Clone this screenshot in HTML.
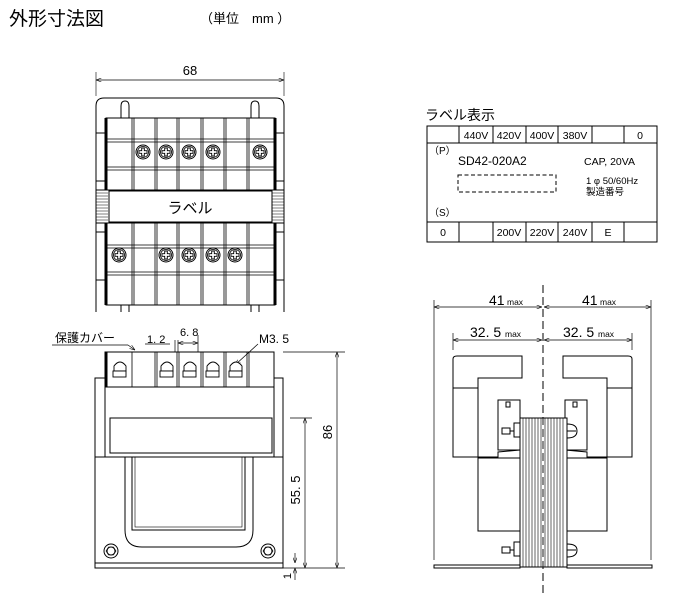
<!DOCTYPE html>
<html><head><meta charset="utf-8"><style>
html,body{margin:0;padding:0;background:#fff;}
svg{display:block;}
text{font-family:"Liberation Sans","Noto Sans CJK JP",sans-serif;fill:#000;}
</style></head><body>
<svg width="690" height="595" viewBox="0 0 690 595" xmlns="http://www.w3.org/2000/svg">
<defs>
<marker id="a" markerWidth="8" markerHeight="6" refX="8" refY="3" orient="auto-start-reverse"><path d="M0,0 L8,3 L0,6" fill="none" stroke="#000" stroke-width="0.8"/></marker>
<g id="scr"><circle r="7" fill="#fff" stroke="#000" stroke-width="1"/><circle r="5.5" fill="none" stroke="#000" stroke-width="0.8"/><path d="M-4,-1.3 H-1.3 V-4 H1.3 V-1.3 H4 V1.3 H1.3 V4 H-1.3 V1.3 H-4 Z" fill="#fff" stroke="#000" stroke-width="0.9"/></g>
</defs>
<text x="9" y="25" font-size="19">外形寸法図</text>
<text x="200" y="23" font-size="13">（単位　mm ）</text>

<!-- TOP VIEW -->
<g stroke="#000" fill="none" stroke-width="1">
<line x1="96" y1="72" x2="96" y2="96" stroke-width="0.6"/><line x1="284" y1="72" x2="284" y2="96" stroke-width="0.6"/>
<line x1="96" y1="80" x2="284" y2="80" stroke-width="0.7" marker-start="url(#a)" marker-end="url(#a)"/>
<path d="M96,312 V106 Q96,98 104,98 H276 Q284,98 284,106 V312"/>
<path d="M121,118 V106 Q121,101 125,101 Q129,101 129,106 V118"/>
<path d="M251,118 V106 Q251,101 255,101 Q259,101 259,106 V118"/>
<path d="M121,305 V312 M129,305 V312 M251,305 V312 M259,305 V312"/>
<rect x="96" y="133" width="12" height="48"/><rect x="272" y="133" width="12" height="48"/>
<rect x="96" y="232" width="12" height="48"/><rect x="272" y="232" width="12" height="48"/>
<rect x="106" y="118" width="169" height="72" fill="#fff"/>
<rect x="106" y="223" width="169" height="82" fill="#fff"/>
<line x1="106" y1="118" x2="106" y2="190" stroke-width="3"/><line x1="275" y1="118" x2="275" y2="190" stroke-width="3"/>
<line x1="106" y1="223" x2="106" y2="305" stroke-width="3"/><line x1="275" y1="223" x2="275" y2="305" stroke-width="3"/>
<path d="M106,139 H275 M106,142 H275 M106,167 H275 M106,170 H275 M106,245 H275 M106,248 H275 M106,272 H275 M106,275 H275" stroke-width="0.7"/>
<path d="M132,118V190M134,118V190M155,118V190M157,118V190M177,118V190M179,118V190M201,118V190M203,118V190M224,118V190M226,118V190M247,118V190M249,118V190" stroke-width="0.8"/>
<path d="M132,223V305M134,223V305M155,223V305M157,223V305M177,223V305M179,223V305M201,223V305M203,223V305M224,223V305M226,223V305M247,223V305M249,223V305" stroke-width="0.8"/>
<rect x="96" y="190" width="188" height="33" fill="#fff"/>
<path d="M96,193H108M96,196H108M96,199H108M96,202H108M96,205H108M96,208H108M96,211H108M96,214H108M96,217H108M96,220H108 M272,193H284M272,196H284M272,199H284M272,202H284M272,205H284M272,208H284M272,211H284M272,214H284M272,217H284M272,220H284" stroke-width="0.6"/>
<rect x="109" y="191" width="163" height="31" fill="#fff"/>
</g>
<text x="190" y="213" font-size="15" text-anchor="middle">ラベル</text>
<text x="190" y="75" font-size="13" text-anchor="middle">68</text>
<use href="#scr" x="143" y="152"/><use href="#scr" x="166" y="152"/><use href="#scr" x="189" y="152"/><use href="#scr" x="213" y="152"/><use href="#scr" x="260" y="152"/>
<use href="#scr" x="119" y="255"/><use href="#scr" x="166" y="255"/><use href="#scr" x="189" y="255"/><use href="#scr" x="213" y="255"/><use href="#scr" x="235" y="255"/>

<!-- FRONT VIEW -->
<g stroke="#000" fill="none" stroke-width="1">
<rect x="95" y="378" width="188" height="190"/>
<line x1="95" y1="563" x2="283" y2="563"/>
<rect x="105" y="352" width="169" height="35" fill="#fff"/>
<line x1="106" y1="352" x2="106" y2="387" stroke-width="3"/>
<rect x="105" y="387" width="169" height="70"/>
<line x1="95" y1="457" x2="283" y2="457"/>
<rect x="110" y="418" width="162" height="35"/>
<path d="M125,457 V530 Q125,547 142,547 H236 Q253,547 253,530 V457"/>
<rect x="132" y="457" width="113" height="73"/>
<rect x="135" y="457" width="107" height="70" stroke-width="0.6"/>
<path d="M132,352V387M155,352V387M157,352V387M177,352V387M179,352V387M201,352V387M203,352V387M224,352V387M226,352V387M247,352V387M249,352V387" stroke-width="0.8"/>
<circle cx="111" cy="551" r="7"/><circle cx="111" cy="551" r="4"/><polygon points="106,551 108.5,547 113.5,547 116,551 113.5,555 108.5,555" stroke-width="0.6"/>
<circle cx="268" cy="551" r="7"/><circle cx="268" cy="551" r="4"/><polygon points="263,551 265.5,547 270.5,547 273,551 270.5,555 265.5,555" stroke-width="0.6"/>
<g stroke-width="0.7"><line x1="283" y1="352" x2="345" y2="352"/><line x1="290" y1="418" x2="312" y2="418"/><line x1="283" y1="568" x2="345" y2="568"/>
<line x1="337" y1="352" x2="337" y2="568" marker-start="url(#a)" marker-end="url(#a)"/>
<line x1="305" y1="418" x2="305" y2="568" marker-start="url(#a)" marker-end="url(#a)"/>
<line x1="295" y1="553" x2="295" y2="563" marker-end="url(#a)"/><line x1="295" y1="580" x2="295" y2="568" marker-end="url(#a)"/>
<line x1="52" y1="345" x2="128" y2="345"/><line x1="128" y1="345" x2="135" y2="350" marker-end="url(#a)"/>
<line x1="145" y1="344" x2="170" y2="344"/><line x1="175" y1="340" x2="175" y2="352"/><line x1="178" y1="340" x2="178" y2="352"/><line x1="198" y1="335" x2="198" y2="352"/>
<line x1="178" y1="343" x2="198" y2="343" marker-start="url(#a)" marker-end="url(#a)"/>
<line x1="258" y1="344" x2="235" y2="365" marker-end="url(#a)"/></g>
</g>
<g fill="#fff" stroke="#000" stroke-width="0.9">
<path d="M114,371 V366 Q120,358 126,366 V371 Z"/><rect x="113" y="371" width="13" height="6"/>
<path d="M161,371 V366 Q167,358 173,366 V371 Z"/><rect x="160" y="371" width="13" height="6"/>
<path d="M184,371 V366 Q190,358 196,366 V371 Z"/><rect x="183" y="371" width="13" height="6"/>
<path d="M207,371 V366 Q213,358 219,366 V371 Z"/><rect x="206" y="371" width="13" height="6"/>
<path d="M230,371 V366 Q236,358 242,366 V371 Z"/><rect x="229" y="371" width="13" height="6"/>
</g>
<text x="55" y="342" font-size="12">保護カバー</text>
<text x="147" y="343" font-size="11">1. 2</text>
<text x="180" y="336" font-size="11">6. 8</text>
<text x="259" y="343" font-size="12">M3. 5</text>
<text transform="translate(332,432) rotate(-90)" font-size="13" text-anchor="middle">86</text>
<text transform="translate(300,490) rotate(-90)" font-size="13" text-anchor="middle">55. 5</text>
<text transform="translate(291,576) rotate(-90)" font-size="11" text-anchor="middle">1</text>

<!-- LABEL TABLE -->
<text x="425" y="120" font-size="14">ラベル表示</text>
<g stroke="#000" fill="none" stroke-width="1">
<rect x="427" y="126" width="230" height="116"/>
<line x1="427" y1="143" x2="657" y2="143"/><line x1="427" y1="222" x2="657" y2="222"/>
<path d="M459,126V143M493,126V143M526,126V143M558,126V143M592,126V143M624,126V143"/>
<path d="M459,222V242M493,222V242M526,222V242M558,222V242M592,222V242M624,222V242"/>
<rect x="458" y="175" width="98" height="17" stroke-dasharray="4,2.5"/>
</g>
<g font-size="10.5" text-anchor="middle">
<text x="476" y="139">440V</text><text x="509" y="139">420V</text><text x="542" y="139">400V</text><text x="575" y="139">380V</text><text x="640" y="139">0</text>
<text x="443" y="236">0</text><text x="509" y="236">200V</text><text x="542" y="236">220V</text><text x="575" y="236">240V</text><text x="608" y="236">E</text>
</g>
<text x="429" y="154" font-size="10">（P）</text>
<text x="429" y="216" font-size="10">（S）</text>
<text x="458" y="165" font-size="12">SD42-020A2</text>
<text x="584" y="165" font-size="10.5">CAP, 20VA</text>
<text x="586" y="184" font-size="9.5">1 φ 50/60Hz</text>
<text x="586" y="195" font-size="9.5">製造番号</text>

<!-- SIDE VIEW -->
<g stroke="#000" fill="none" stroke-width="1">
<line x1="543" y1="285" x2="543" y2="595" stroke-dasharray="8,4" stroke-width="0.9"/>
<line x1="434" y1="300" x2="434" y2="560" stroke-width="0.7"/><line x1="651" y1="300" x2="651" y2="560" stroke-width="0.7"/>
<line x1="453" y1="333" x2="453" y2="350" stroke-width="0.7"/><line x1="632" y1="333" x2="632" y2="350" stroke-width="0.7"/>
<line x1="434" y1="307" x2="542" y2="307" stroke-width="0.7" marker-start="url(#a)" marker-end="url(#a)"/>
<line x1="544" y1="307" x2="651" y2="307" stroke-width="0.7" marker-start="url(#a)" marker-end="url(#a)"/>
<line x1="453" y1="340" x2="542" y2="340" stroke-width="0.7" marker-start="url(#a)" marker-end="url(#a)"/>
<line x1="544" y1="340" x2="632" y2="340" stroke-width="0.7" marker-start="url(#a)" marker-end="url(#a)"/>
<path d="M457,356 H522 V378 H478 V457 H498 V452 L520,450 M478,457 H453 V359 Q453,356 457,356"/>
<line x1="453" y1="388" x2="478" y2="388"/>
<rect x="498" y="400" width="22" height="50"/><rect x="506" y="402" width="4" height="5"/>
<rect x="478" y="458" width="42" height="73"/>
<path d="M628,356 H563 V378 H607 V457 H587 V452 L565,450 M607,457 H632 V359 Q632,356 628,356"/>
<line x1="607" y1="388" x2="632" y2="388"/>
<rect x="565" y="400" width="22" height="50"/><rect x="573" y="402" width="4" height="5"/>
<rect x="565" y="458" width="42" height="73"/>
<rect x="520" y="418" width="47" height="149" fill="#fff"/>
<path d="M523,418V567M526,418V567M529,418V567M532,418V567M535,418V567M538,418V567M541,418V567M545,418V567M548,418V567M551,418V567M554,418V567M557,418V567M560,418V567M563,418V567" stroke-width="0.6"/>
<rect x="514" y="423" width="6" height="14"/><rect x="502" y="428" width="8" height="6"/><line x1="510" y1="431" x2="514" y2="431"/>
<rect x="514" y="542" width="6" height="14"/><rect x="502" y="547" width="8" height="6"/><line x1="510" y1="550" x2="514" y2="550"/>
<path d="M567,424 Q577,424 577,431 Q577,438 567,438 M567,431 H576"/>
<path d="M567,544 Q577,544 577,550 Q577,557 567,557 M567,550 H576"/>
<rect x="434" y="565" width="86" height="3"/><rect x="567" y="565" width="85" height="3"/>
</g>
<line x1="543" y1="285" x2="543" y2="595" stroke="#000" stroke-dasharray="8,4" stroke-width="0.9"/>
<text x="489" y="305" font-size="14">41</text><text x="507" y="305" font-size="8.5">max</text>
<text x="582" y="305" font-size="14">41</text><text x="600" y="305" font-size="8.5">max</text>
<text x="470" y="337" font-size="14">32. 5</text><text x="505" y="337" font-size="8.5">max</text>
<text x="563" y="337" font-size="14">32. 5</text><text x="598" y="337" font-size="8.5">max</text>
</svg>
</body></html>
